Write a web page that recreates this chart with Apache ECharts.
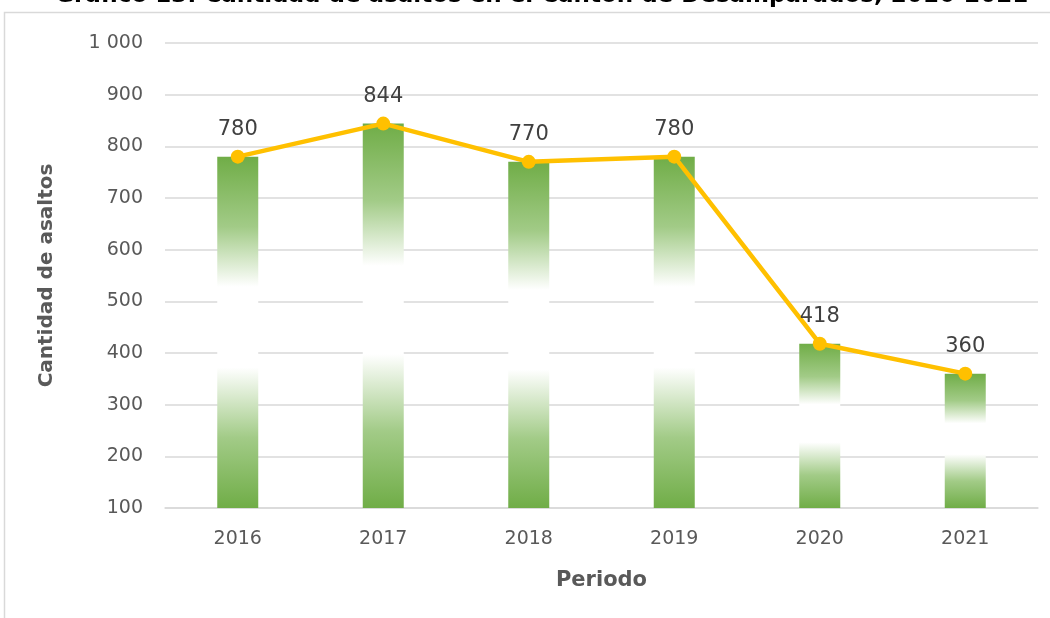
<!DOCTYPE html>
<html>
<head>
<meta charset="utf-8">
<script src="https://cdn.jsdelivr.net/npm/echarts@6/dist/echarts.min.js"></script>
<style>html,body{margin:0;padding:0;background:#fff}#c{width:1050px;height:618px}</style>
</head>
<body>
<div id="c"></div>
<script>
const titleText = 'Gráfico 13: Cantidad de asaltos en el Cantón de Desamparados, 2016-2021';
const categories = ['2016', '2017', '2018', '2019', '2020', '2021'];
const asaltos = [780, 844, 770, 780, 418, 360];
const yAxisName = 'Cantidad de asaltos';
const xAxisName = 'Periodo';

const FONT = '"DejaVu Sans", sans-serif';
const chart = echarts.init(document.getElementById('c'));
const barGrad = new echarts.graphic.LinearGradient(0, 0, 0, 1, [
  {offset: 0, color: '#70ad47'},
  {offset: 0.2, color: '#a2cb87'},
  {offset: 0.37, color: '#ffffff'},
  {offset: 0.6, color: '#ffffff'},
  {offset: 0.8, color: '#a2cb87'},
  {offset: 1, color: '#70ad47'}
]);
chart.setOption({
  animation: false,
  title: {
    text: titleText, left: 50, top: -20,
    textStyle: {fontFamily: FONT, fontWeight: 'bold', fontSize: 23, color: '#000'}
  },
  graphic: [{
    type: 'rect', shape: {x: 4.5, y: 12.5, width: 1100, height: 700},
    style: {fill: '#fff', stroke: '#d9d9d9', lineWidth: 1.5}, silent: true, z: -10
  }],
  grid: {left: 165, right: 12, top: 43, bottom: 110},
  xAxis: {
    type: 'category', data: categories,
    name: xAxisName, nameLocation: 'middle', nameGap: 62,
    nameTextStyle: {fontFamily: FONT, fontWeight: 'bold', fontSize: 21, color: '#595959'},
    axisLine: {lineStyle: {color: '#d9d9d9', width: 1.5}},
    axisTick: {show: false},
    axisLabel: {fontFamily: FONT, fontSize: 19, color: '#595959', margin: 22}
  },
  yAxis: {
    type: 'value', min: 100, max: 1000, interval: 100,
    name: yAxisName, nameLocation: 'middle', nameGap: 108, nameRotate: 90,
    nameTextStyle: {fontFamily: FONT, fontWeight: 'bold', fontSize: 20, color: '#595959'},
    axisLine: {show: false}, axisTick: {show: false},
    splitLine: {lineStyle: {color: '#d9d9d9', width: 1.5}},
    axisLabel: {
      fontFamily: FONT, fontSize: 19, color: '#595959', margin: 22,
      formatter: v => String(v).replace(/\B(?=(\d{3})+(?!\d))/g, ' ')
    }
  },
  series: [{
    type: 'bar', data: asaltos, barWidth: 41,
    itemStyle: {color: barGrad}
  }, {
    type: 'line', data: asaltos, symbol: 'circle', symbolSize: 14,
    lineStyle: {color: '#ffc000', width: 4.5},
    itemStyle: {color: '#ffc000'},
    label: {show: true, position: 'top', distance: 10, fontFamily: FONT, fontSize: 21, color: '#404040'}
  }]
});
</script>
</body>
</html>
